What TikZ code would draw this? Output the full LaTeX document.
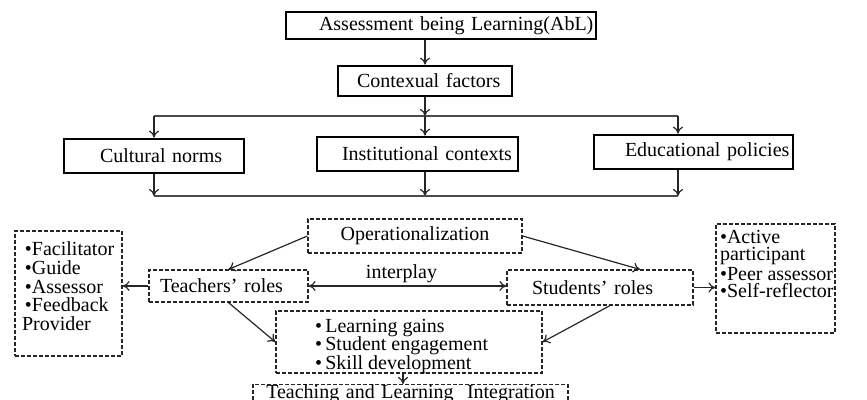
\documentclass[tikz,border=0pt]{standalone}
\usepackage{fontspec}
\setmainfont{Liberation Serif}
\usetikzlibrary{arrows.meta}
\lineskiplimit=-5pt

\begin{document}
\begin{tikzpicture}[x=0.5pt,y=-0.5pt,>={To[length=3.5pt,width=5pt]},
  solidbox/.style={draw, line width=1.4pt, inner xsep=0pt, inner ysep=1pt, align=left},
  dashbox/.style={draw=black!85, line width=0.6pt, dash pattern=on 2pt off 1pt,
    inner xsep=0pt, inner ysep=1pt, align=left},
  link/.style={->, black!85, line width=0.6pt},
  busline/.style={black!70, line width=0.7pt}]
  \useasboundingbox (0,0) rectangle (867,400);
  \clip (0,0) rectangle (867,400);

  \node[solidbox, text width=155pt, minimum height=13.5pt] at (441,25.5) (abl) {\hspace*{16.5pt}\mbox{Assessment being Learning(AbL)}};
  \node[solidbox, text width=87pt, minimum height=15pt] at (425,81) (ctx) {\hspace*{9.5pt}\mbox{Contexual factors}};
  \node[solidbox, text width=90pt, minimum height=17pt] at (154,156) (cult) {\hspace*{18pt}\mbox{Cultural norms}};
  \node[solidbox, text width=100.5pt, minimum height=17pt] at (417.5,154) (inst) {\hspace*{12.5pt}\mbox{Institutional contexts}};
  \node[solidbox, text width=99.5pt, minimum height=17pt] at (693.5,152) (edu) {\hspace*{15.5pt}\mbox{Educational policies}};

  \coordinate (bt1) at (154,116);
  \coordinate (bt2) at (425,116);
  \coordinate (bt3) at (678,116);
  \coordinate (bb1) at (154,196);
  \coordinate (bb2) at (425,196);
  \coordinate (bb3) at (678,196);

  \draw[link] (ctx.north |- abl.south) -- (ctx.north);
  \draw[link] (ctx.south) -- (bt2);
  \draw[busline] (bt1) -- (bt3);
  \draw[link] (bt1) -- (bt1 |- cult.north);
  \draw[link] (bt2) -- (bt2 |- inst.north);
  \draw[link] (bt3) -- (bt3 |- edu.north);
  \draw[link] (bt1 |- cult.south) -- (bb1);
  \draw[link] (bt2 |- inst.south) -- (bb2);
  \draw[link] (bt3 |- edu.south) -- (bb3);
  \draw[busline] (bb1) -- (bb3);

  \node[dashbox, align=center, text width=107pt, minimum height=17pt] at (415,236) (op) {Operationalization};
  \node[dashbox, text width=79.5pt, minimum height=16pt] at (228.5,286) (teach) {\hspace*{5.5pt}\mbox{Teachers’ roles}};
  \node[dashbox, text width=93pt, minimum height=17.5pt] at (600,287.5) (stud) {\hspace*{12.5pt}\mbox{Students’ roles}};
  \node[dashbox, inner sep=0pt] at (68.5,293.5) (tlist) {\parbox[c][62.5pt][t]{53.5pt}{\fontsize{10}{9.3}\selectfont
    \vspace*{5.5pt}\hspace*{5pt}•Facilitator\\
    \hspace*{5pt}•Guide\\
    \hspace*{5pt}•Assessor\\
    \hspace*{5pt}•Feedback\\
    \hspace*{3.5pt}Provider}};
  \node[dashbox, inner sep=0pt] at (775.5,278.5) (slist) {\parbox[c][54.5pt][t]{59.5pt}{\fontsize{10}{8.6}\selectfont
    \vspace*{3.2pt}\hspace*{2pt}•Active\\
    \hspace*{2pt}participant\\
    \hspace*{2pt}•Peer assessor\\
    \hspace*{2pt}•Self-reflector}};
  \node[dashbox, inner sep=0pt] at (409,342) (gains) {\parbox[c][31pt][t]{133pt}{\fontsize{10}{9.1}\selectfont
    \vspace*{4.2pt}\hspace*{19.5pt}•\,Learning gains\\
    \hspace*{19.5pt}•\,Student engagement\\
    \hspace*{19.5pt}•\,Skill development}};
  \node[dashbox, align=center, text width=157.5pt, inner ysep=0pt, anchor=north] at (410.5,384) (integ)
    {Teaching and Learning~ Integration};

  \draw[link] (op.west) -- (teach.north);
  \draw[link] (op.east) -- ([xshift=20pt]stud.north);
  \draw[link, <->] (teach.east) -- (teach.east -| stud.west) node[midway, above, inner sep=1.5pt, text=black, xshift=-3pt] {interplay};
  \draw[link] (teach.west) -- (teach.west -| tlist.east);
  \draw[link] (stud.east) -- (stud.east -| slist.west);
  \draw[link] (teach.south) -- (gains.west);
  \draw[link] ([xshift=5pt]stud.south) -- (gains.east);
  \draw[link] ([xshift=-3pt]gains.south) -- ([xshift=-3pt]gains.south |- integ.north);
\end{tikzpicture}
\end{document}
